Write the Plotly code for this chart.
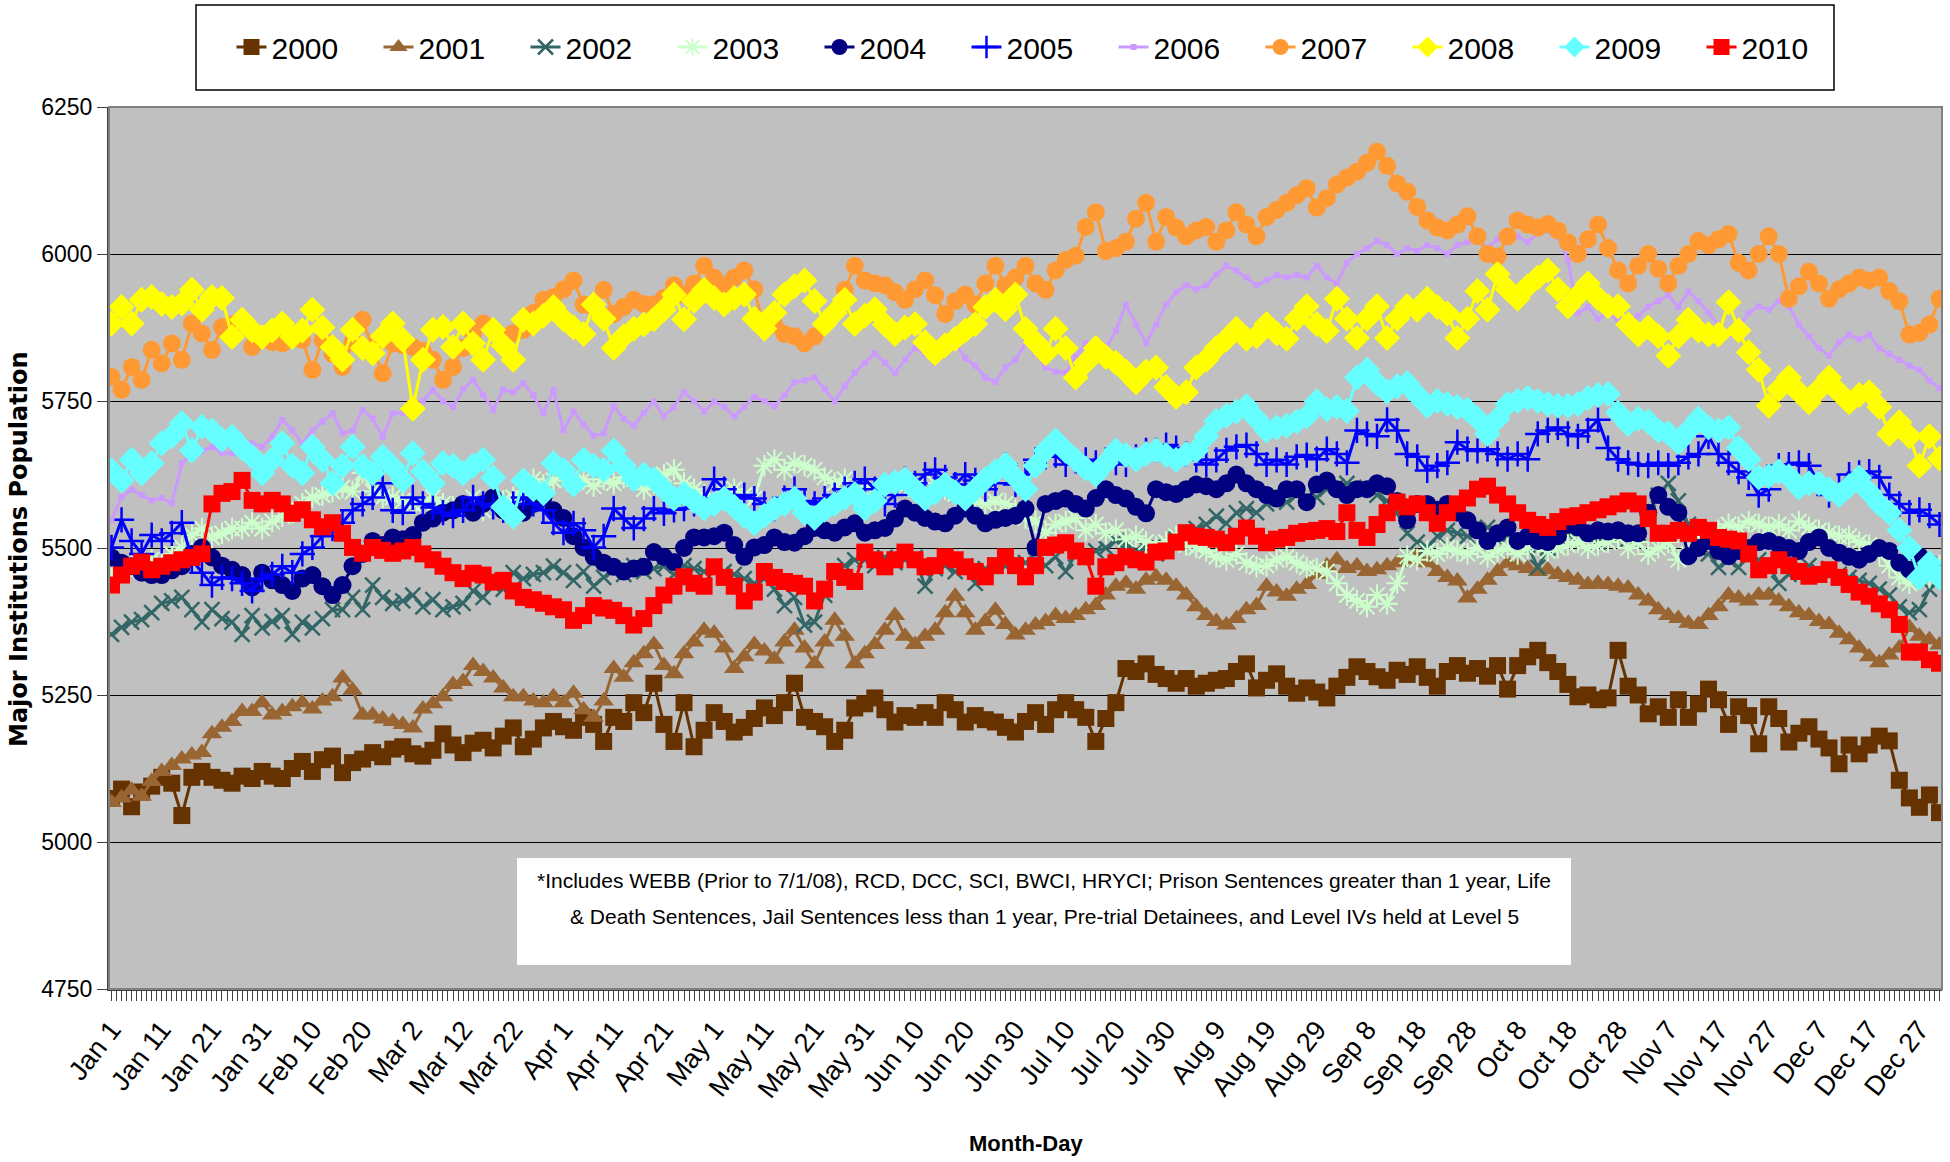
import plotly.graph_objects as go

NARROW = "Liberation Sans Narrow, Arial Narrow, Liberation Sans, Arial, sans-serif"

tick_labels = ["Jan 1", "Jan 11", "Jan 21", "Jan 31", "Feb 10", "Feb 20", "Mar 2", "Mar 12", "Mar 22",
               "Apr 1", "Apr 11", "Apr 21", "May 1", "May 11", "May 21", "May 31", "Jun 10", "Jun 20",
               "Jun 30", "Jul 10", "Jul 20", "Jul 30", "Aug 9", "Aug 19", "Aug 29", "Sep 8", "Sep 18",
               "Sep 28", "Oct 8", "Oct 18", "Oct 28", "Nov 7", "Nov 17", "Nov 27", "Dec 7", "Dec 17", "Dec 27"]
tick_days = list(range(0, 361, 10))

# values read every second day (Jan 1, Jan 3, ... Dec 31)
s2000 = [5074, 5090, 5060, 5085, 5095, 5110, 5100, 5045, 5110, 5120,
         5110, 5105, 5100, 5112, 5108, 5120, 5112, 5108, 5125, 5137,
         5120, 5140, 5146, 5118, 5135, 5141, 5152, 5145, 5158, 5162,
         5150, 5146, 5156, 5184, 5165, 5152, 5168, 5173, 5160, 5180,
         5194, 5162, 5175, 5194, 5205, 5196, 5190, 5212, 5200, 5171,
         5212, 5205, 5237, 5220, 5270, 5200, 5171, 5237, 5162, 5190,
         5220, 5205, 5187, 5195, 5210, 5228, 5215, 5237, 5270, 5212,
         5205, 5196, 5171, 5190, 5228, 5235, 5245, 5225, 5204, 5215,
         5212, 5220, 5212, 5237, 5225, 5204, 5215, 5208, 5204, 5195,
         5187, 5205, 5220, 5200, 5225, 5237, 5225, 5212, 5171, 5210,
         5237, 5295, 5290, 5303, 5285, 5278, 5270, 5278, 5265, 5270,
         5275, 5278, 5290, 5303, 5262, 5275, 5286, 5265, 5253, 5262,
         5255, 5245, 5265, 5280, 5298, 5290, 5281, 5275, 5292, 5285,
         5298, 5280, 5265, 5290, 5300, 5287, 5295, 5282, 5300, 5260,
         5300, 5315, 5326, 5305, 5290, 5268, 5247, 5250, 5242, 5245,
         5326, 5265, 5250, 5218, 5230, 5212, 5242, 5212, 5235, 5260,
         5242, 5200, 5230, 5215, 5167, 5230, 5210, 5170, 5185, 5196,
         5175, 5160, 5133, 5165, 5150, 5165, 5180, 5172, 5105, 5075,
         5059, 5080, 5050]

s2001 = [5067, 5075, 5088, 5078, 5103, 5120, 5130, 5141, 5148, 5152,
         5184, 5195, 5205, 5222, 5222, 5237, 5216, 5222, 5230, 5237,
         5226, 5240, 5247, 5279, 5258, 5216, 5216, 5209, 5205, 5200,
         5194, 5226, 5235, 5247, 5268, 5273, 5300, 5290, 5279, 5262,
         5247, 5247, 5240, 5237, 5247, 5237, 5253, 5225, 5212, 5240,
         5295, 5280, 5305, 5320, 5336, 5300, 5286, 5320, 5340, 5360,
         5355, 5330, 5295, 5315, 5336, 5325, 5311, 5340, 5360, 5330,
         5303, 5340, 5377, 5350, 5303, 5320, 5336, 5360, 5385, 5350,
         5336, 5350, 5360, 5390, 5418, 5390, 5360, 5375, 5394, 5370,
         5352, 5360, 5369, 5375, 5385, 5380, 5385, 5395, 5402, 5420,
         5435, 5440, 5430, 5445, 5451, 5445, 5435, 5420, 5400, 5385,
         5375, 5369, 5380, 5395, 5402, 5435, 5425, 5418, 5430, 5438,
         5455, 5470, 5480, 5465, 5470, 5460, 5463, 5470, 5475, 5480,
         5486, 5475, 5460, 5450, 5444, 5415, 5430, 5445, 5460, 5474,
         5470, 5465, 5460, 5463, 5455, 5450, 5445, 5438, 5440, 5438,
         5435, 5432, 5420, 5410, 5395, 5385, 5380, 5372, 5370, 5385,
         5400, 5420, 5415, 5410, 5420, 5420, 5410, 5400, 5390, 5385,
         5375, 5370, 5355, 5344, 5330, 5315, 5305, 5318, 5330, 5365,
         5350, 5344, 5335]

s2002 = [5353, 5365, 5374, 5378, 5390, 5406, 5410, 5416, 5395, 5374,
         5395, 5380, 5374, 5353, 5385, 5364, 5375, 5385, 5353, 5374,
         5364, 5380, 5395, 5395, 5416, 5395, 5437, 5416, 5406, 5410,
         5420, 5400, 5412, 5395, 5400, 5406, 5427, 5416, 5437, 5430,
         5458, 5448, 5455, 5458, 5469, 5458, 5445, 5460, 5435, 5450,
         5463, 5455, 5470, 5460, 5465, 5469, 5455, 5470, 5465, 5460,
         5469, 5460, 5455, 5448, 5440, 5448, 5430, 5402, 5416, 5369,
         5374, 5420, 5460, 5470, 5480, 5480, 5470, 5484, 5475, 5480,
         5484, 5435, 5465, 5470, 5460, 5469, 5440, 5465, 5470, 5469,
         5469, 5475, 5480, 5470, 5485, 5460, 5490, 5485, 5495, 5500,
         5512, 5505, 5495, 5500, 5490, 5501, 5515, 5525, 5533, 5540,
         5554, 5542, 5560, 5567, 5560, 5575, 5584, 5578, 5590, 5586,
         5586, 5600, 5605, 5610, 5600, 5603, 5590, 5580, 5560, 5525,
         5510, 5500, 5520, 5530, 5525, 5520, 5530, 5535, 5525, 5520,
         5510, 5505, 5467, 5500, 5520, 5525, 5530, 5520, 5510, 5525,
         5520, 5515, 5525, 5560, 5590, 5610, 5580, 5540, 5500, 5490,
         5467, 5480, 5467, 5490, 5480, 5470, 5440, 5455, 5460, 5470,
         5460, 5465, 5455, 5450, 5445, 5440, 5430, 5420, 5400, 5390,
         5395, 5430, 5445]

s2003 = [5448, 5460, 5469, 5463, 5480, 5476, 5490, 5501, 5522, 5533,
         5518, 5525, 5533, 5533, 5543, 5533, 5545, 5554, 5560, 5575,
         5586, 5590, 5596, 5603, 5596, 5628, 5596, 5586, 5586, 5580,
         5575, 5575, 5586, 5575, 5570, 5564, 5586, 5564, 5575, 5580,
         5586, 5596, 5617, 5607, 5615, 5628, 5610, 5617, 5605, 5617,
         5610, 5620, 5617, 5600, 5610, 5625, 5633, 5610, 5600, 5590,
         5584, 5595, 5600, 5590, 5584, 5640, 5650, 5633, 5645, 5640,
         5633, 5620, 5610, 5617, 5600, 5605, 5592, 5600, 5610, 5605,
         5600, 5592, 5610, 5600, 5592, 5585, 5580, 5575, 5580, 5575,
         5565, 5551, 5545, 5526, 5540, 5545, 5551, 5530, 5540, 5525,
         5530, 5515, 5520, 5510, 5501, 5510, 5520, 5505, 5501, 5495,
         5485, 5480, 5490, 5475, 5468, 5470, 5480, 5485, 5475, 5467,
         5465, 5460, 5440, 5420, 5410, 5400, 5420, 5405, 5440, 5486,
         5480, 5495, 5490, 5500, 5495, 5490, 5500, 5485, 5495, 5500,
         5490, 5500, 5505, 5495, 5500, 5505, 5510, 5500, 5505, 5510,
         5520, 5500, 5510, 5490, 5500, 5510, 5480, 5490, 5505, 5520,
         5530, 5540, 5535, 5545, 5540, 5535, 5540, 5530, 5545, 5535,
         5530, 5525, 5520, 5520, 5510, 5505, 5490, 5470, 5450, 5440,
         5460, 5450, 5470]

s2004 = [5484, 5475, 5469, 5458, 5454, 5454, 5462, 5469, 5490, 5501,
         5484, 5470, 5463, 5454, 5433, 5458, 5445, 5437, 5427, 5448,
         5454, 5435, 5420, 5437, 5469, 5490, 5512, 5505, 5518, 5515,
         5522, 5543, 5550, 5560, 5564, 5575, 5560, 5575, 5586, 5564,
         5554, 5560, 5575, 5586, 5564, 5551, 5520, 5501, 5485, 5475,
         5468, 5460, 5465, 5468, 5493, 5485, 5476, 5500, 5518, 5518,
         5520, 5526, 5505, 5485, 5501, 5505, 5518, 5510, 5509, 5520,
         5534, 5530, 5526, 5535, 5542, 5526, 5530, 5534, 5550, 5567,
         5560, 5551, 5545, 5542, 5555, 5567, 5555, 5542, 5548, 5551,
         5555, 5567, 5501, 5575, 5580, 5584, 5575, 5567, 5585, 5600,
         5590, 5584, 5570, 5559, 5600, 5595, 5592, 5600, 5608, 5605,
         5600, 5610, 5625, 5610, 5600, 5590, 5584, 5600, 5600, 5578,
         5608, 5615, 5600, 5590, 5600, 5600, 5610, 5605, 5580, 5547,
         5575, 5575, 5565, 5575, 5560, 5547, 5530, 5512, 5525, 5535,
         5512, 5520, 5512, 5510, 5520, 5540, 5535, 5525, 5530, 5528,
         5530, 5525, 5525, 5560, 5590, 5570, 5560, 5486, 5500, 5512,
         5495, 5486, 5495, 5500, 5510, 5512, 5505, 5500, 5495, 5510,
         5518, 5500, 5492, 5485, 5480, 5490, 5500, 5495, 5475, 5463,
         5486, 5475, 5460]

s2005 = [5501, 5548, 5512, 5490, 5522, 5512, 5525, 5543, 5480, 5458,
         5437, 5450, 5448, 5440, 5427, 5448, 5455, 5469, 5458, 5490,
         5501, 5520, 5533, 5543, 5564, 5575, 5586, 5610, 5564, 5560,
         5586, 5575, 5569, 5560, 5555, 5564, 5586, 5575, 5570, 5564,
         5575, 5586, 5575, 5564, 5543, 5526, 5542, 5530, 5501, 5520,
         5567, 5550, 5534, 5550, 5567, 5559, 5565, 5567, 5575, 5584,
         5617, 5600, 5584, 5590, 5584, 5575, 5567, 5585, 5600, 5580,
         5575, 5584, 5590, 5600, 5610, 5617, 5600, 5575, 5590, 5617,
         5610, 5625, 5633, 5620, 5608, 5625, 5615, 5600, 5610, 5642,
         5608, 5625, 5650, 5655, 5658, 5642, 5648, 5650, 5645, 5650,
         5645, 5642, 5655, 5666, 5666, 5675, 5670, 5660, 5650, 5642,
         5650, 5666, 5672, 5675, 5660, 5642, 5650, 5642, 5655, 5658,
         5651, 5668, 5660, 5645, 5700, 5694, 5690, 5718, 5700, 5660,
         5655, 5632, 5640, 5645, 5680, 5668, 5665, 5668, 5660, 5651,
         5660, 5651, 5694, 5700, 5705, 5694, 5690, 5700, 5718, 5670,
         5651, 5645, 5642, 5640, 5645, 5640, 5645, 5655, 5660, 5690,
         5660, 5645, 5630, 5620, 5590, 5600, 5640, 5642, 5645, 5640,
         5610, 5590, 5605, 5625, 5628, 5630, 5620, 5590, 5575, 5560,
         5565, 5555, 5540]

s2006 = [5547, 5587, 5599, 5590, 5581, 5585, 5576, 5644, 5661, 5665,
         5672, 5661, 5661, 5678, 5678, 5672, 5690, 5718, 5700, 5678,
         5700, 5715, 5729, 5695, 5700, 5735, 5720, 5689, 5729, 5730,
         5740, 5750, 5769, 5750, 5740, 5770, 5786, 5760, 5735, 5769,
         5765, 5780, 5760, 5729, 5769, 5700, 5732, 5710, 5691, 5695,
         5741, 5720, 5708, 5730, 5749, 5724, 5740, 5765, 5750, 5732,
         5749, 5740, 5724, 5740, 5757, 5750, 5741, 5760, 5782, 5785,
         5790, 5770, 5749, 5775, 5798, 5815, 5831, 5815, 5798, 5820,
         5840, 5830, 5815, 5830, 5848, 5823, 5810, 5790, 5782, 5807,
         5820, 5848, 5830, 5807, 5800, 5798, 5825, 5848, 5845, 5840,
         5870, 5914, 5880, 5848, 5880, 5914, 5935, 5947, 5940, 5947,
         5965, 5980, 5972, 5960, 5947, 5955, 5964, 5960, 5964, 5960,
         5980, 5960, 5950, 5985, 6000, 6010, 6022, 6015, 6000, 6010,
         6005, 6015, 6010, 6000, 6015, 6020, 6028, 6010, 6025, 6020,
         6030, 6020, 6035, 6040, 6030, 5990, 5899, 5910, 5890, 5900,
         5888, 5880, 5895, 5910, 5920, 5930, 5910, 5936, 5920, 5900,
         5880, 5863, 5875, 5900, 5911, 5905, 5920, 5911, 5880, 5860,
         5840, 5827, 5850, 5863, 5855, 5863, 5840, 5830, 5820, 5810,
         5803, 5785, 5772]

s2007 = [5791, 5769, 5808, 5786, 5837, 5814, 5848, 5820, 5882, 5865,
         5837, 5876, 5880, 5888, 5842, 5859, 5850, 5848, 5859, 5854,
         5803, 5854, 5830, 5808, 5850, 5888, 5840, 5797, 5848, 5845,
         5842, 5835, 5820, 5786, 5808, 5840, 5865, 5882, 5870, 5859,
         5865, 5871, 5900, 5922, 5927, 5940, 5955, 5914, 5910, 5939,
         5898, 5910, 5922, 5915, 5914, 5925, 5947, 5931, 5950, 5980,
         5960, 5947, 5960, 5972, 5940, 5873, 5880, 5864, 5860, 5848,
         5860, 5881, 5900, 5939, 5980, 5955, 5950, 5947, 5935, 5922,
         5940, 5955, 5930, 5898, 5920, 5931, 5914, 5950, 5980, 5947,
         5960, 5980, 5950, 5939, 5972, 5990, 5997, 6046, 6071, 6005,
         6010, 6021, 6060, 6087, 6021, 6063, 6045, 6030, 6040, 6046,
         6021, 6040, 6071, 6050, 6030, 6063, 6075, 6087, 6100, 6112,
         6079, 6095, 6118, 6130, 6140, 6155, 6174, 6150, 6120, 6106,
         6080, 6057, 6045, 6040, 6050, 6064, 6030, 6000, 5996, 6030,
         6057, 6050, 6045, 6051, 6040, 6020, 6000, 6025, 6050, 6010,
         5972, 5950, 5980, 6000, 5975, 5950, 5980, 6000, 6022, 6015,
         6025, 6034, 5985, 5972, 6000, 6030, 6000, 5924, 5945, 5970,
         5950, 5924, 5940, 5950, 5960, 5955, 5960, 5937, 5920, 5863,
         5866, 5880, 5924]

s2008 = [5882, 5910, 5882, 5922, 5927, 5915, 5910, 5916, 5939, 5905,
         5927, 5925, 5859, 5888, 5870, 5859, 5870, 5882, 5859, 5870,
         5905, 5875, 5842, 5820, 5871, 5840, 5831, 5860, 5882, 5854,
         5737, 5820, 5871, 5876, 5842, 5882, 5848, 5820, 5871, 5845,
         5820, 5888, 5882, 5895, 5910, 5889, 5875, 5864, 5914, 5890,
         5840, 5860, 5873, 5880, 5889, 5905, 5931, 5889, 5920, 5939,
         5925, 5914, 5925, 5931, 5890, 5873, 5900, 5931, 5945, 5955,
         5920, 5881, 5900, 5922, 5881, 5895, 5906, 5880, 5864, 5875,
         5881, 5850, 5831, 5845, 5856, 5870, 5881, 5910, 5922, 5906,
         5931, 5873, 5850, 5831, 5873, 5840, 5790, 5815, 5840, 5825,
         5815, 5800, 5782, 5800, 5807, 5774, 5757, 5765, 5807, 5820,
         5840, 5855, 5873, 5856, 5860, 5881, 5865, 5856, 5890, 5911,
         5881, 5869, 5924, 5890, 5857, 5890, 5911, 5857, 5890, 5911,
         5905, 5924, 5910, 5899, 5857, 5890, 5937, 5905, 5966, 5940,
         5924, 5945, 5960, 5972, 5940, 5911, 5930, 5950, 5925, 5911,
         5911, 5880, 5863, 5875, 5860, 5827, 5860, 5888, 5870, 5863,
         5863, 5918, 5870, 5833, 5803, 5742, 5770, 5790, 5765, 5748,
         5770, 5790, 5765, 5748, 5760, 5765, 5740, 5694, 5714, 5690,
         5640, 5690, 5652]

s2009 = [5632, 5615, 5650, 5627, 5644, 5678, 5690, 5712, 5666, 5706,
         5700, 5684, 5689, 5670, 5655, 5627, 5650, 5678, 5640, 5627,
         5672, 5650, 5610, 5640, 5672, 5640, 5627, 5655, 5638, 5615,
         5661, 5630, 5610, 5644, 5640, 5627, 5640, 5650, 5620, 5570,
         5553, 5615, 5600, 5593, 5644, 5633, 5608, 5650, 5640, 5633,
         5666, 5640, 5617, 5625, 5617, 5600, 5584, 5592, 5580, 5567,
         5575, 5584, 5570, 5555, 5542, 5555, 5567, 5575, 5584, 5560,
         5551, 5565, 5575, 5585, 5592, 5567, 5580, 5608, 5612, 5617,
         5600, 5584, 5595, 5608, 5595, 5584, 5600, 5617, 5630, 5642,
         5620, 5600, 5640, 5666, 5683, 5665, 5650, 5635, 5625, 5645,
         5666, 5658, 5650, 5660, 5666, 5658, 5650, 5660, 5666, 5690,
         5716, 5725, 5732, 5741, 5720, 5700, 5705, 5708, 5715, 5724,
         5749, 5736, 5740, 5733, 5790, 5803, 5780, 5766, 5775, 5780,
         5760, 5742, 5750, 5745, 5740, 5735, 5720, 5694, 5720, 5745,
         5750, 5755, 5750, 5745, 5742, 5742, 5745, 5755, 5760, 5762,
         5730, 5711, 5720, 5715, 5700, 5695, 5680, 5700, 5720, 5705,
         5700, 5705, 5670, 5651, 5620, 5622, 5630, 5622, 5603, 5610,
         5610, 5600, 5590, 5605, 5620, 5595, 5575, 5560, 5530, 5500,
         5450, 5474, 5450]

s2010 = [5437, 5454, 5469, 5476, 5463, 5469, 5475, 5480, 5484, 5490,
         5575, 5593, 5596, 5615, 5581, 5575, 5581, 5575, 5559, 5565,
         5548, 5536, 5543, 5525, 5501, 5491, 5501, 5496, 5491, 5495,
         5501, 5490, 5480, 5469, 5458, 5448, 5457, 5454, 5442, 5445,
         5427, 5416, 5412, 5406, 5400, 5395, 5377, 5385, 5402, 5398,
         5394, 5385, 5369, 5380, 5402, 5420, 5435, 5451, 5440, 5435,
         5468, 5450, 5435, 5410, 5425, 5460, 5450, 5443, 5440, 5435,
         5410, 5430, 5460, 5450, 5443, 5493, 5480, 5468, 5480, 5493,
         5480, 5468, 5470, 5485, 5480, 5468, 5460, 5451, 5470, 5485,
         5470, 5451, 5470, 5501, 5505, 5509, 5495, 5485, 5435, 5468,
         5475, 5485, 5480, 5476, 5493, 5495, 5510, 5526, 5520, 5518,
         5515, 5509, 5520, 5534, 5520, 5509, 5515, 5518, 5525, 5528,
         5530, 5533, 5528, 5560, 5530, 5518, 5540, 5560, 5578, 5570,
         5575, 5560, 5542, 5560, 5575, 5585, 5600, 5605, 5590, 5575,
         5560, 5547, 5540, 5535, 5545, 5553, 5555, 5560, 5565, 5570,
         5575, 5580, 5575, 5550, 5525, 5525, 5530, 5525, 5535, 5530,
         5518, 5515, 5512, 5490, 5463, 5470, 5480, 5470, 5460, 5452,
         5455, 5463, 5450, 5438, 5425, 5418, 5405, 5395, 5370, 5323,
         5323, 5310, 5304]

series = [
    ("2000", s2000, "#663300", "square", 17, 0),
    ("2001", s2001, "#996633", "triangle-up", 18, 0),
    ("2002", s2002, "#336666", "x-thin", 15, 2.5),
    ("2003", s2003, "#CCFFCC", "asterisk", 18, 2),
    ("2004", s2004, "#000080", "circle", 18, 0),
    ("2005", s2005, "#0000FF", "cross-thin", 18, 2.5),
    ("2006", s2006, "#CC99FF", "square", 6, 0),
    ("2007", s2007, "#FF9933", "circle", 18, 0),
    ("2008", s2008, "#FFFF00", "diamond", 20, 0),
    ("2009", s2009, "#66FFFF", "diamond", 20, 0),
    ("2010", s2010, "#FF0000", "square", 17, 0),
]

fig = go.Figure()
for name, vals, color, sym, size, lw in series:
    xs = [2 * i for i in range(len(vals))]
    mk = dict(symbol=sym, size=size, color=color, line=dict(width=lw, color=color))
    fig.add_trace(go.Scatter(x=xs, y=vals, mode="lines+markers", name=name,
                             line=dict(color=color, width=3), marker=mk))

# plot area geometry (pixels): left 109, right 1942, top 107, bottom 989
W, H = 1950, 1162
L, R, T, B = 109, 1942, 107, 989
pw, ph = R - L, B - T


def px(x):
    return (x - L) / pw


def py(y):
    return (B - y) / ph


shapes = [
    # legend box
    dict(type="rect", xref="paper", yref="paper", x0=px(196), x1=px(1834), y0=py(90), y1=py(5),
         line=dict(color="#000000", width=1.5), fillcolor="white", layer="below"),
    # note box
    dict(type="rect", xref="paper", yref="paper", x0=px(517), x1=px(1571), y0=py(965), y1=py(858),
         line=dict(width=0), fillcolor="white", layer="above"),
    # plot border (top / right)
    dict(type="rect", xref="paper", yref="paper", x0=0, x1=1, y0=0, y1=1,
         line=dict(color="#808080", width=2), layer="above"),
]

annotations = [
    dict(text="*Includes WEBB (Prior to 7/1/08), RCD, DCC, SCI, BWCI, HRYCI; Prison Sentences greater than 1 year, Life",
         xref="paper", yref="paper", x=px(1044), y=py(880), xanchor="center", yanchor="middle",
         showarrow=False, font=dict(family=NARROW, size=21, color="black")),
    dict(text="& Death Sentences, Jail Sentences less than 1 year, Pre-trial Detainees, and Level IVs held at Level 5",
         xref="paper", yref="paper", x=px(1044), y=py(916), xanchor="center", yanchor="middle",
         showarrow=False, font=dict(family=NARROW, size=21, color="black")),
    dict(text="<b>Major Institutions Population</b>", xref="paper", yref="paper", x=px(19), y=py(549),
         xanchor="center", yanchor="middle", textangle=-90, showarrow=False,
         font=dict(family="DejaVu Sans", size=24, color="black")),
    dict(text="<b>Month-Day</b>", xref="paper", yref="paper", x=px(1026), y=py(1143),
         xanchor="center", yanchor="middle", showarrow=False,
         font=dict(family=NARROW, size=22, color="black")),
]

fig.update_layout(
    width=W, height=H,
    margin=dict(l=L, r=W - R, t=T, b=H - B, pad=0),
    paper_bgcolor="white", plot_bgcolor="#C0C0C0",
    showlegend=True,
    legend=dict(orientation="h", x=px(1040), xanchor="center", y=py(47), yanchor="middle",
                font=dict(family=NARROW, size=30, color="black"), bgcolor="rgba(0,0,0,0)",
                borderwidth=0, entrywidth=102, itemwidth=30, traceorder="normal"),
    shapes=shapes,
    annotations=annotations,
    xaxis=dict(range=[-0.5, 364.5], tickmode="array", tickvals=tick_days, ticktext=tick_labels,
               tickangle=-52, tickfont=dict(family="Liberation Sans, Arial, sans-serif", size=27, color="black"),
               ticks="outside", ticklen=10, tickcolor="#404040", showgrid=False, zeroline=False,
               showline=True, linecolor="#404040", linewidth=2, ticklabelstandoff=2,
               minor=dict(tickmode="linear", tick0=0, dtick=1, ticks="outside", ticklen=10,
                          tickcolor="#404040", showgrid=False)),
    yaxis=dict(range=[4750, 6250], tickmode="linear", tick0=4750, dtick=250,
               ticks="outside", ticklen=10, tickcolor="#404040",
               tickfont=dict(family=NARROW, size=23, color="black"),
               showgrid=True, gridcolor="#000000", gridwidth=1, zeroline=False,
               showline=True, linecolor="#404040", linewidth=2),
)

fig.write_html("out.html", config={"displayModeBar": False},
               post_script="document.body.style.margin='0px';document.body.style.padding='0px';"
                           "document.body.style.overflow='hidden';")
